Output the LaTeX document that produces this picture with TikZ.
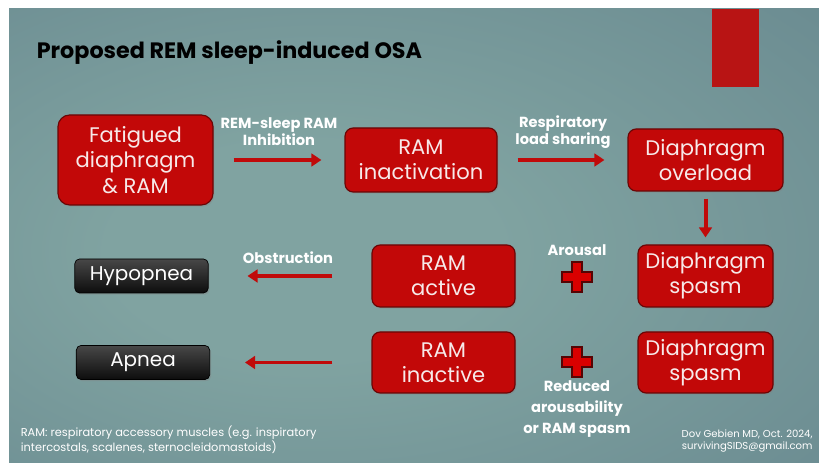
\documentclass[tikz,border=0pt]{standalone}
\usepackage{fontspec}
\setmainfont{Poppins}
\usetikzlibrary{arrows.meta,shadows}

\definecolor{bgmid}{HTML}{80A3A1}
\definecolor{bgedge}{HTML}{5C7B86}
\definecolor{boxred}{HTML}{C20808}
\definecolor{boxdark}{HTML}{6A0505}
\definecolor{boxtext}{HTML}{F7E9E9}
\definecolor{arrowred}{HTML}{C00A0A}
\definecolor{barred}{HTML}{B81414}

% slide background: lighter middle, darker rim
\pgfdeclareradialshading{slidebg}{\pgfpoint{-8bp}{-2bp}}{color(0bp)=(bgmid); color(12bp)=(bgmid); color(60bp)=(bgedge); color(80bp)=(bgedge)}

\begin{document}
\begin{tikzpicture}[x=1cm,y=1cm,>={Triangle[length=.3cm,width=.38cm]},
  cause/.style={draw=boxdark,line width=1pt,rounded corners=7pt,fill=boxred,align=center,text=boxtext,inner sep=0pt,
    font=\fontsize{18}{21.5}\selectfont,drop shadow={opacity=.3,shadow xshift=.04cm,shadow yshift=-.05cm}},
  outcome/.style={draw=black,line width=.6pt,rounded corners=4pt,top color=black!72,bottom color=black!95,text=white!92,
    inner sep=0pt,minimum width=4cm,minimum height=1.02cm,font=\fontsize{17}{20}\selectfont,
    drop shadow={opacity=.35,shadow xshift=.04cm,shadow yshift=-.05cm}},
  flow/.style={->,draw=arrowred,line width=3.4pt},
  tag/.style={align=center,text=white!95,font=\bfseries\fontsize{12.5}{14.5}\selectfont},
  redplus/.pic={\filldraw[fill=red!85!black,draw=boxdark!80!black,line width=.9pt]
    (-.15,-.45) -- (.15,-.45) -- (.15,-.15) -- (.45,-.15) -- (.45,.15) -- (.15,.15) -- (.15,.45)
    -- (-.15,.45) -- (-.15,.15) -- (-.45,.15) -- (-.45,-.15) -- (-.15,-.15) -- cycle;}]
\useasboundingbox[fill=white] (0,0) rectangle (24.57,13.89);
\shade[shading=slidebg] (.27,0) rectangle (24.57,13.62);
\fill[barred] (21.36,13.62) rectangle (22.77,11.28);
\node[anchor=west,font=\bfseries\fontsize{19}{22}\selectfont,text=black] (title) at (.98,12.3) {Proposed REM sleep-induced OSA};

% top row
\node[cause,minimum width=4.65cm,minimum height=2.7cm,rounded corners=10pt] (fatigue) at (4.065,9.09) {Fatigued\\diaphragm\\\& RAM};
\node[cause,minimum width=4.56cm,minimum height=1.92cm] (inact) at (12.63,9.09) {RAM\\inactivation};
\node[cause,minimum width=4.65cm,minimum height=1.86cm] (overload) at (21.165,9.09) {Diaphragm\\overload};
\draw[flow,shorten <=.6cm,shorten >=.69cm] (fatigue) -- (inact);
\draw[flow,shorten <=.6cm,shorten >=.69cm] (inact) -- (overload);
\node[tag] (inhib) at (8.37,9.93) {REM-sleep RAM\\Inhibition};
\node[tag] (share) at (16.89,9.93) {Respiratory\\load sharing};

% middle row
\node[cause,minimum width=4.05cm,minimum height=1.86cm] (spasmA) at (21.165,5.61) {Diaphragm\\spasm};
\node[cause,minimum width=4.29cm,minimum height=1.86cm] (active) at (13.305,5.61) {RAM\\active};
\node[outcome] (hypo) at (4.245,5.61) {Hypopnea};
\draw[flow,shorten <=.21cm,shorten >=.21cm] (overload) -- (spasmA);
\draw[flow,shorten <=1.17cm,shorten >=1.17cm] (active) -- (hypo);
\node[tag] (obstr) at (8.64,6.16) {Obstruction};
\node[tag] (arousal) at (17.31,6.4) {Arousal};
\pic (plusA) at (17.31,5.58) {redplus};

% bottom row
\node[cause,minimum width=4.05cm,minimum height=1.83cm] (spasmB) at (21.165,3.015) {Diaphragm\\spasm};
\node[cause,minimum width=4.29cm,minimum height=1.83cm] (inactive) at (13.305,3.015) {RAM\\inactive};
\node[outcome] (apnea) at (4.29,3.015) {Apnea};
\draw[flow,shorten <=1.17cm,shorten >=1.05cm] (inactive) -- (apnea);
\pic (plusB) at (17.31,3.03) {redplus};
\node[tag,font=\bfseries\fontsize{12.5}{18}\selectfont] (reduced) at (17.31,1.62) {Reduced\\arousability\\or RAM spasm};

% footers
\node[anchor=west,align=left,text=white!92,font=\fontsize{9.7}{11.5}\selectfont] (legend) at (.5,.7)
  {RAM: respiratory accessory muscles (e.g. inspiratory\\intercostals, scalenes, sternocleidomastoids)};
\node[anchor=east,align=right,text=white!92,font=\fontsize{8.6}{10.8}\selectfont] (credit) at (24.5,.66)
  {Dov Gebien MD, Oct. 2024,\\survivingSIDS@gmail.com};
\end{tikzpicture}
\end{document}
